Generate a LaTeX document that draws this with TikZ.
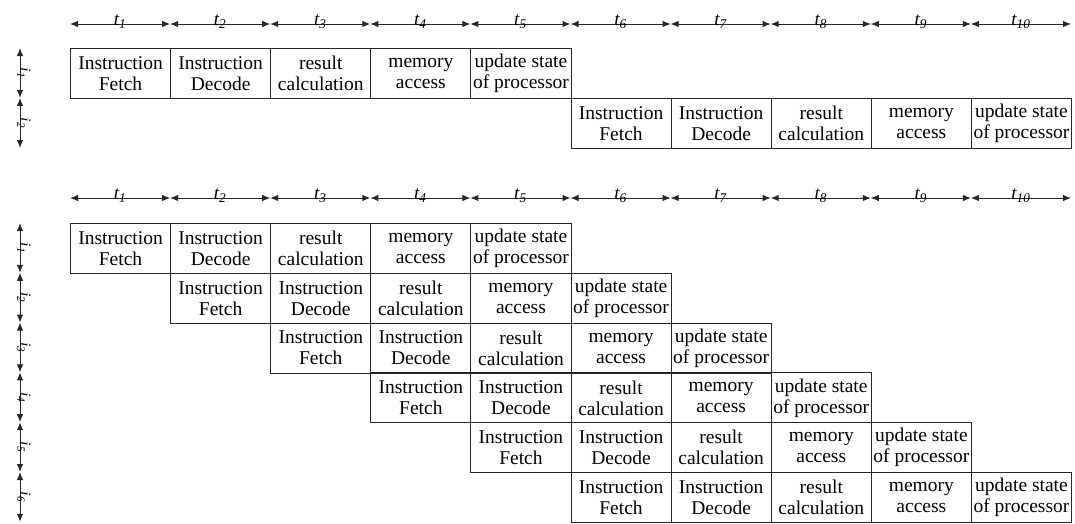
\documentclass[tikz,border=0pt]{standalone}
\usepackage{fontspec}
\setmainfont{Liberation Serif}
\newfontfamily\tnr{Liberation Serif}
\usetikzlibrary{arrows.meta}
\begin{document}
\begin{tikzpicture}[x=1pt,y=-1pt,
  cell/.style={draw=black!85, line width=1pt, minimum width=100.1pt, minimum height=50pt,
    inner sep=0pt, align=center, anchor=north west, text=black,
    font=\tnr\fontsize{19.5}{21}\selectfont},
  span/.style={line width=1pt, draw=black!85,
    {Latex[length=8pt,width=6.5pt]}-{Latex[length=8pt,width=6.5pt]}},
  tlab/.style={font=\tnr\itshape\fontsize{19}{19}\selectfont, anchor=base, inner sep=0pt, text=black},
  ilab/.style={font=\tnr\itshape\fontsize{16}{16}\selectfont, anchor=base, inner sep=0pt, rotate=-90, text=black}]
\fill[white] (0,0) rectangle (1075,523);
\useasboundingbox (0,0) rectangle (1075,523);
% time lines
\foreach \k in {0,...,10} {
  \coordinate (ta\k) at ({70+100.1*\k},24);
  \coordinate (tb\k) at ({70+100.1*\k},198);
}
\foreach \k [evaluate=\k as \n using int(\k+1)] in {0,...,9} {
  \draw[span] (ta\k) -- (ta\n) node[tlab, midway, yshift=-1.5pt] (lta\n) {t\textsubscript{\n}};
  \draw[span] (tb\k) -- (tb\n) node[tlab, midway, yshift=-1.5pt] (ltb\n) {t\textsubscript{\n}};
}
% instruction axes
\foreach \k in {0,1,2} \coordinate (va\k) at (20,{48+50*\k});
\foreach \k in {0,...,6} \coordinate (vb\k) at (20,{223+49.8*\k});
\foreach \k [evaluate=\k as \n using int(\k+1)] in {0,1}
  \draw[span] (va\k) -- (va\n) node[ilab, midway] (lia\n) {i\textsubscript{\n}};
\foreach \k [evaluate=\k as \n using int(\k+1)] in {0,...,5}
  \draw[span] (vb\k) -- (vb\n) node[ilab, midway] (lib\n) {i\textsubscript{\n}};
% top diagram: sequential execution
\node[cell] (a1s1) at ({70+100.1*0},48) {Instruction\\Fetch};
\node[cell] (a1s2) at ({70+100.1*1},48) {Instruction\\Decode};
\node[cell] (a1s3) at ({70+100.1*2},48) {result\\calculation};
\node[cell] (a1s4) at ({70+100.1*3},48) {memory\\access};
\node[cell] (a1s5) at ({70+100.1*4},48) {update state\\of processor};
\node[cell] (a2s1) at ({70+100.1*5},98) {Instruction\\Fetch};
\node[cell] (a2s2) at ({70+100.1*6},98) {Instruction\\Decode};
\node[cell] (a2s3) at ({70+100.1*7},98) {result\\calculation};
\node[cell] (a2s4) at ({70+100.1*8},98) {memory\\access};
\node[cell] (a2s5) at ({70+100.1*9},98) {update state\\of processor};
% bottom diagram: pipelined execution
\foreach \r in {0,...,5} {
  \node[cell] (b\r s1) at ({70+100.1*(\r+0)},{223+49.8*\r}) {Instruction\\Fetch};
  \node[cell] (b\r s2) at ({70+100.1*(\r+1)},{223+49.8*\r}) {Instruction\\Decode};
  \node[cell] (b\r s3) at ({70+100.1*(\r+2)},{223+49.8*\r}) {result\\calculation};
  \node[cell] (b\r s4) at ({70+100.1*(\r+3)},{223+49.8*\r}) {memory\\access};
  \node[cell] (b\r s5) at ({70+100.1*(\r+4)},{223+49.8*\r}) {update state\\of processor};
}
\end{tikzpicture}
\end{document}
